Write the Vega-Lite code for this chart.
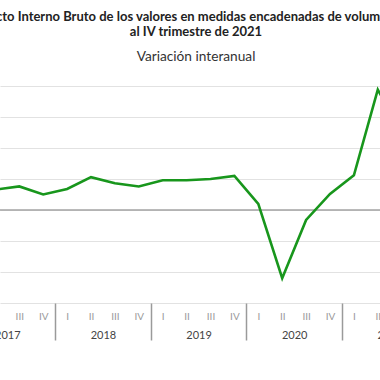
{
  "$schema": "https://vega.github.io/schema/vega-lite/v6.json",
  "width": 380,
  "height": 217,
  "autosize": {"type": "none"},
  "padding": {"left": 0, "right": 0, "top": 86, "bottom": 77},
  "background": "white",
  "config": {"view": {"stroke": null}},
  "title": {
    "text": ["Producto Interno Bruto de los valores en medidas encadenadas  de volumen, 2017", "al IV trimestre de 2021"],
    "subtitle": "Variación interanual",
    "anchor": "middle",
    "frame": "group",
    "dx": 6,
    "font": "Lato",
    "fontSize": 13,
    "fontWeight": "bold",
    "color": "#222222",
    "lineHeight": 15.5,
    "subtitleFont": "Lato",
    "subtitleFontSize": 13.7,
    "subtitleFontWeight": "normal",
    "subtitleColor": "#333333",
    "subtitlePadding": 11,
    "offset": 22
  },
  "data": {
    "values": [
      {"q": 0, "v": 3.0}, {"q": 1, "v": 3.3}, {"q": 2, "v": 3.8}, {"q": 3, "v": 2.5},
      {"q": 4, "v": 3.4}, {"q": 5, "v": 5.3}, {"q": 6, "v": 4.3}, {"q": 7, "v": 3.8},
      {"q": 8, "v": 4.8}, {"q": 9, "v": 4.8}, {"q": 10, "v": 5.0}, {"q": 11, "v": 5.5},
      {"q": 12, "v": 1.0}, {"q": 13, "v": -11.0}, {"q": 14, "v": -1.6}, {"q": 15, "v": 2.6},
      {"q": 16, "v": 5.6}, {"q": 17, "v": 19.4}, {"q": 18, "v": 12.5}, {"q": 19, "v": 8.0}
    ]
  },
  "layer": [
    {
      "mark": {"type": "line", "strokeOpacity": 0},
      "encoding": {
        "x": {"field": "q", "type": "quantitative",
          "scale": {"domain": [1.192, 17.092], "nice": false, "zero": false},
          "axis": {"orient": "bottom", "values": [3.5, 7.5, 11.5, 15.5], "labels": false, "domain": false, "grid": false,
            "ticks": true, "tickSize": 37, "tickColor": "#9a9a9a", "tickWidth": 1.5, "title": null}},
        "y": {"field": "v", "type": "quantitative",
          "scale": {"domain": [-15, 20], "nice": false, "zero": false},
          "axis": {"values": [-15, -10, -5, 0, 5, 10, 15, 20], "grid": true, "gridColor": "#e2e2e2", "gridWidth": 1.2,
            "labels": false, "ticks": false, "domain": false, "title": null}}
      }
    },
    {
      "mark": {"type": "line", "strokeOpacity": 0},
      "encoding": {
        "x": {"field": "q", "type": "quantitative",
          "axis": {"orient": "bottom", "values": [1.5, 5.5, 9.5, 13.5],
            "labelExpr": "'' + (2017 + floor(datum.value / 4))",
            "labelFlush": false, "labelOverlap": false, "labelFont": "Lato", "labelFontSize": 11, "labelColor": "#444444",
            "labelPadding": 26, "ticks": false, "tickSize": 0, "domain": false, "grid": false, "title": null}},
        "y": {"field": "v", "type": "quantitative", "axis": null}
      }
    },
    {
      "mark": {"type": "line", "strokeOpacity": 0},
      "encoding": {
        "x": {"field": "q", "type": "quantitative",
          "axis": {"orient": "bottom", "values": [17.05],
            "labelExpr": "'2021'", "labelOffset": 10.8,
            "labelFlush": false, "labelOverlap": false, "labelBound": false, "labelFont": "Lato", "labelFontSize": 11, "labelColor": "#444444",
            "labelPadding": 26, "ticks": false, "tickSize": 0, "domain": false, "grid": false, "title": null}},
        "y": {"field": "v", "type": "quantitative", "axis": null}
      }
    },
    {
      "mark": {"type": "rule", "color": "#a3a3a3", "strokeWidth": 1.5},
      "data": {"values": [{"z": 0}]},
      "encoding": {
        "y": {"field": "z", "type": "quantitative", "axis": null}
      }
    },
    {
      "mark": {"type": "line", "color": "#18961c", "strokeWidth": 2.6, "clip": true},
      "encoding": {
        "x": {"field": "q", "type": "quantitative",
          "axis": {"orient": "bottom", "values": [0, 1, 2, 3, 4, 5, 6, 7, 8, 9, 10, 11, 12, 13, 14, 15, 16, 17, 18, 19],
            "labelExpr": "['I','II','III','IV'][datum.value % 4]",
            "labelFlush": false, "labelOverlap": false, "labelFont": "Lato", "labelFontSize": 10, "labelColor": "#9a9a9a",
            "labelPadding": 8, "ticks": false, "tickSize": 0, "domain": false, "grid": false, "title": null}},
        "y": {"field": "v", "type": "quantitative", "axis": null}
      }
    }
  ],
  "resolve": {"axis": {"x": "independent", "y": "independent"}}
}
